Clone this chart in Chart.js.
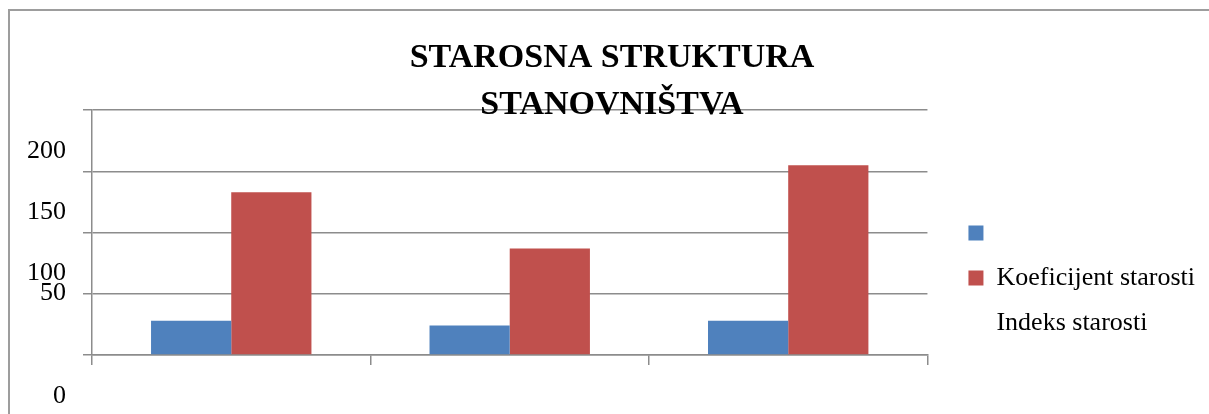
<!DOCTYPE html>
<html>
<head>
<meta charset="utf-8">
<script src="https://cdn.jsdelivr.net/npm/chart.js@4"></script>
<style>
    html, body { margin: 0; padding: 0; background: #fff; overflow: hidden; }
    #frame {
        position: absolute; left: 8px; top: 9px; width: 1400px; height: 600px;
        border-top: 2px solid #9d9d9d; border-left: 2px solid #9d9d9d;
    }
    #wrap { position: absolute; left: 0; top: 0; width: 1209px; height: 414px; }
</style>
</head>
<body>
<div id="frame"></div>
<div id="wrap"><canvas id="myChart" width="1209" height="414"></canvas></div>
<script>
    const categories = ['', '', ''];
    const seriesNames = ['Koeficijent starosti', 'Indeks starosti'];
    const blueValues = [28, 24, 28];
    const redValues = [133, 87, 155];
    const legendTexts = ['', 'Koeficijent starosti', 'Indeks starosti'];
    const yTicks = [0, 50, 100, 150, 200];
    const titleLines = ['STAROSNA STRUKTURA', 'STANOVNIŠTVA'];

    const colors = ['#4f81bd', '#c0504d'];
    const serif = "'Liberation Serif', 'Times New Roman', serif";
    const gridColor = '#8c8c8c';

    Chart.defaults.font.family = serif;
    Chart.defaults.color = '#000';

    new Chart(document.getElementById('myChart'), {
        type: 'bar',
        data: {
            labels: categories,
            datasets: [{
                label: seriesNames[0],
                data: blueValues,
                backgroundColor: colors[0],
                borderWidth: 0
            }, {
                label: seriesNames[1],
                data: redValues,
                backgroundColor: colors[1],
                borderWidth: 0
            }]
        },
        options: {
            responsive: false,
            animation: false,
            events: [],
            layout: { padding: { left: 19, right: 4, top: 0, bottom: 0 } },
            datasets: { bar: { barPercentage: 1, categoryPercentage: 0.576 } },
            scales: {
                x: {
                    grid: { drawOnChartArea: false, tickLength: 10, color: gridColor, lineWidth: 1.5 },
                    border: { color: gridColor, width: 1.5 },
                    ticks: { display: false },
                    afterFit: function (scale) { scale.height = 59; }
                },
                y: {
                    min: yTicks[0],
                    max: yTicks[yTicks.length - 1],
                    afterBuildTicks: function (scale) {
                        scale.ticks = yTicks.map(v => ({ value: v }));
                    },
                    grid: { tickLength: 9, color: gridColor, lineWidth: 1.5 },
                    border: { color: gridColor, width: 1.5 },
                    ticks: {
                        autoSkip: false,
                        padding: 17,
                        labelOffset: 41,
                        color: '#000',
                        font: function (ctx) {
                            // the "50" label sits up against the "100" one
                            const lifted = ctx.tick && ctx.tick.value === 50;
                            return { family: serif, size: 26, lineHeight: lifted ? '42px' : 1.2 };
                        },
                        callback: function (value) {
                            return value === 50 ? ['50', '', ''] : String(value);
                        }
                    },
                    afterFit: function (scale) { scale.width = 73; }
                },
                gap: {
                    position: 'right',
                    display: true,
                    grid: { display: false },
                    border: { display: false },
                    ticks: { display: false },
                    afterFit: function (scale) { scale.width = 22; }
                }
            },
            plugins: {
                title: {
                    display: true,
                    text: titleLines,
                    color: '#000',
                    font: { family: serif, size: 34, weight: 'bold', lineHeight: 1.4 },
                    padding: { top: 34, bottom: -19 }
                },
                legend: {
                    position: 'right',
                    align: 'end',
                    fullSize: false,
                    maxWidth: 320,
                    labels: {
                        boxWidth: 15,
                        boxHeight: 15,
                        padding: 19,
                        color: '#000',
                        font: { family: serif, size: 26 },
                        generateLabels: function () {
                            return legendTexts.map((t, i) => ({
                                text: t,
                                fillStyle: i < colors.length ? colors[i] : 'rgba(0,0,0,0)',
                                strokeStyle: 'rgba(0,0,0,0)',
                                lineWidth: 0,
                                hidden: false,
                                datasetIndex: i
                            }));
                        }
                    }
                },
                tooltip: { enabled: false }
            }
        }
    });
</script>
</body>
</html>
